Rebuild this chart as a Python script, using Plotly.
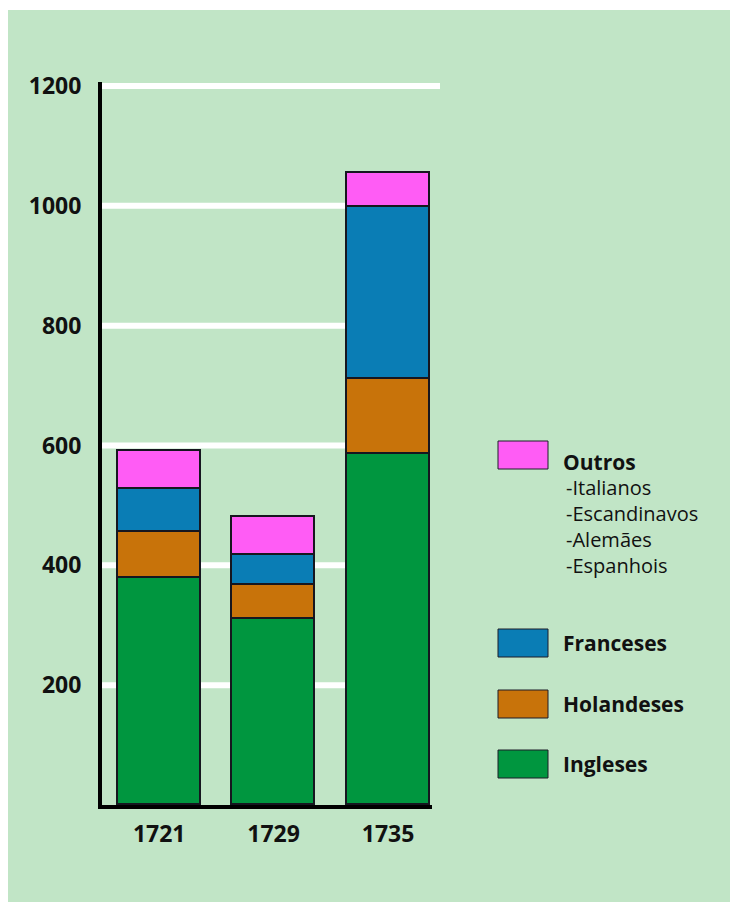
import plotly.graph_objects as go

# ---- data ----
anos = ["1721", "1729", "1735"]
ingleses = [379, 310, 586]
holandeses = [77, 57, 125]
franceses = [71, 50, 287]
outros = [64, 64, 57]
series_names = ["Ingleses", "Holandeses", "Franceses", "Outros"]
outros_detalhe = ["Italianos", "Escandinavos", "Alemães", "Espanhois"]
y_ticks = [200, 400, 600, 800, 1000, 1200]

colors = {"Ingleses": "#00963F", "Holandeses": "#C8730A",
          "Franceses": "#0A7DB5", "Outros": "#FF5CF5"}
BG = "#C1E5C6"
FONT = "Open Sans"

W, H = 730, 902
L, R, T, B = 102, 298, 82, 97
PW, PH = W - L - R, H - T - B
BAR_W = 0.725

def px(x):
    return (x - L) / PW

def py(y):
    return (H - B - y) / PH

fig = go.Figure()
xs = list(range(len(anos)))
for name, vals in zip(series_names, [ingleses, holandeses, franceses, outros]):
    fig.add_trace(go.Bar(
        x=xs, y=vals, name=name, width=BAR_W,
        marker=dict(color=colors[name], line=dict(color="#16161f", width=1.8)),
        showlegend=False,
    ))

shapes = []
# white frame strips (top and left)
shapes.append(dict(type="rect", xref="paper", yref="paper", x0=px(-5), x1=px(W + 5),
                   y0=py(-5), y1=py(10), fillcolor="white", line=dict(width=0), layer="below"))
shapes.append(dict(type="rect", xref="paper", yref="paper", x0=px(-5), x1=px(8),
                   y0=py(-5), y1=py(H + 5), fillcolor="white", line=dict(width=0), layer="below"))
# gridlines
for v in y_ticks:
    if v == max(y_ticks):
        shapes.append(dict(type="line", xref="paper", yref="y", x0=0, x1=px(440),
                           y0=v, y1=v, line=dict(color="white", width=6), layer="below"))
    else:
        shapes.append(dict(type="line", xref="x", yref="y", x0=-0.5, x1=2 - BAR_W / 2,
                           y0=v, y1=v, line=dict(color="white", width=6), layer="below"))

annotations = []
# legend (manual)
legend_rows = [("Outros", 455), ("Franceses", 643), ("Holandeses", 704), ("Ingleses", 764)]
for name, yc in legend_rows:
    shapes.append(dict(type="rect", xref="paper", yref="paper",
                       x0=px(498), x1=px(548), y0=py(yc - 14), y1=py(yc + 14),
                       fillcolor=colors[name], line=dict(color="#1c1c28", width=1)))
    ty = yc + 7 if name == "Outros" else yc
    annotations.append(dict(xref="paper", yref="paper", x=px(561), y=py(ty),
                            xanchor="left", yanchor="middle", showarrow=False,
                            text="<b>%s</b>" % name,
                            font=dict(family=FONT, size=21, color="#111")))
for i, d in enumerate(outros_detalhe):
    annotations.append(dict(xref="paper", yref="paper", x=px(564), y=py(487 + i * 26),
                            xanchor="left", yanchor="middle", showarrow=False,
                            text="-" + d,
                            font=dict(family=FONT, size=20, color="#111", weight=400)))

fig.update_layout(
    width=W, height=H,
    margin=dict(l=L, r=R, t=T, b=B, pad=0),
    paper_bgcolor=BG, plot_bgcolor=BG,
    barmode="stack", bargap=0,
    shapes=shapes, annotations=annotations,
    xaxis=dict(range=[-0.5, (432 - 159) / 114.5], tickvals=xs, ticktext=anos,
               showgrid=False, zeroline=False, showline=True, linecolor="black",
               linewidth=4, ticks="", ticklabelstandoff=5,
               tickfont=dict(family=FONT, size=23, color="#111", weight=700),
               fixedrange=True),
    yaxis=dict(range=[0, (H - B - T) / (719 / 1200)], tickvals=y_ticks,
               showgrid=False, zeroline=False, showline=True, linecolor="black",
               linewidth=4, ticks="", ticklabelstandoff=12,
               tickfont=dict(family=FONT, size=23, color="#111", weight=700),
               fixedrange=True),
    showlegend=False,
)

fig.write_html("out.html")
